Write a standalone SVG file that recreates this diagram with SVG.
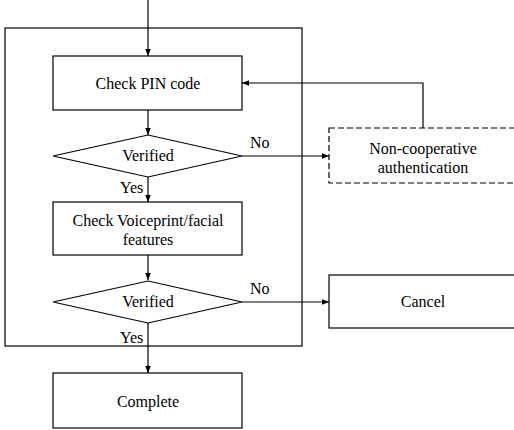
<svg xmlns="http://www.w3.org/2000/svg" width="514" height="430" viewBox="0 0 514 430">
<defs>
<marker id="ah" viewBox="0 0 10 10" refX="10" refY="5" markerWidth="7" markerHeight="7" orient="auto" markerUnits="userSpaceOnUse">
<path d="M0,1 L10,5 L0,9 z" fill="#000"/>
</marker>
<style>
.box{fill:#fff;stroke:#000;stroke-width:1.2}
.dash{fill:#fff;stroke:#000;stroke-width:1.2;stroke-dasharray:6,3}
.ln{fill:none;stroke:#000;stroke-width:1.2}
.arr{fill:none;stroke:#000;stroke-width:1.2;marker-end:url(#ah)}
text{font-family:'Liberation Serif','DejaVu Serif',serif;font-size:16px;fill:#000}
.c{text-anchor:middle}
</style>
</defs>
<rect width="514" height="430" fill="#fff"/>
<g id="frame"><rect x="5" y="28" width="297" height="318" class="ln"/></g>
<g id="connectors">
<line x1="148" y1="0" x2="148" y2="56" class="arr"/>
<line x1="148" y1="110" x2="148" y2="135" class="arr"/>
<line x1="242" y1="156" x2="329" y2="156" class="arr"/>
<polyline points="423,128 423,83 242,83" class="arr"/>
<line x1="148" y1="177" x2="148" y2="202" class="arr"/>
<line x1="148" y1="255" x2="148" y2="280" class="arr"/>
<line x1="242" y1="302" x2="329" y2="302" class="arr"/>
<line x1="148" y1="323" x2="148" y2="373" class="arr"/>
<text x="250" y="148">No</text>
<text x="120" y="193">Yes</text>
<text x="250" y="294">No</text>
<text x="120" y="343">Yes</text>
</g>
<g id="pin"><rect x="53" y="56" width="189" height="54" class="box"/><text x="148" y="89" class="c">Check PIN code</text></g>
<g id="verified1"><polygon points="53,156 148,135 242,156 148,177" class="box"/><text x="148" y="161" class="c">Verified</text></g>
<g id="noncoop"><rect x="329" y="128" width="195" height="55" class="dash"/><text x="423" y="154" class="c">Non-cooperative</text><text x="423" y="173" class="c">authentication</text></g>
<g id="voice"><rect x="53" y="202" width="189" height="53" class="box"/><text x="148" y="226" class="c">Check Voiceprint/facial</text><text x="148" y="245" class="c">features</text></g>
<g id="verified2"><polygon points="53,302 148,281 242,302 148,323" class="box"/><text x="148" y="307" class="c">Verified</text></g>
<g id="cancel"><rect x="329" y="275" width="195" height="53" class="box"/><text x="423" y="307" class="c">Cancel</text></g>
<g id="complete"><rect x="53" y="373" width="189" height="55" class="box"/><text x="148" y="407" class="c">Complete</text></g>
</svg>
